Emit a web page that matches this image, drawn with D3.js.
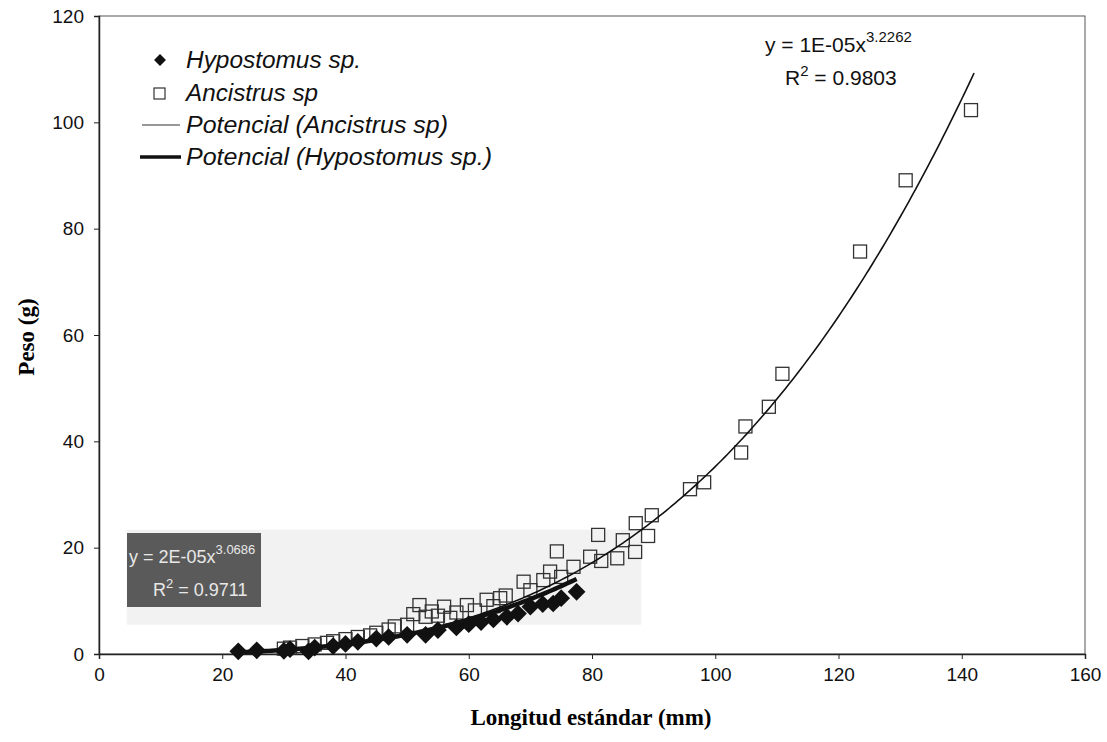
<!DOCTYPE html>
<html>
<head>
<meta charset="utf-8">
<script src="https://cdn.jsdelivr.net/npm/d3@7"></script>
<style>
  body { margin: 0; background: #fff; }
  text { font-family: "Liberation Sans", Arial, sans-serif; }
</style>
</head>
<body>
<div id="chart-area"></div>
<script>
// Ancistrus sp (open squares)
let ancistrusX = [30, 31, 33, 35, 37, 38, 40, 42, 44, 45, 47, 48, 50, 51, 52, 53, 54, 55, 56, 57, 58, 59.7, 61, 62.9, 64, 65.1, 66, 68.9, 70, 72.1, 73.2, 74.3, 75, 77, 79.7, 81, 81.5, 84.1, 85, 87, 87.1, 89.1, 89.7, 95.9, 98.2, 104.2, 104.9, 108.7, 110.9, 123.5, 130.9, 141.5];
let ancistrusY = [1.0, 1.2, 1.5, 1.8, 2.1, 2.4, 2.8, 3.2, 3.5, 4.0, 4.6, 5.2, 5.5, 7.5, 9.2, 7.0, 8.0, 7.2, 8.9, 6.8, 7.8, 9.2, 8.2, 10.2, 9.0, 10.5, 11.0, 13.6, 12.0, 13.9, 15.5, 19.3, 14.5, 16.4, 18.3, 22.4, 17.5, 18.0, 21.4, 19.2, 24.6, 22.2, 26.1, 31.0, 32.3, 37.9, 42.8, 46.5, 52.7, 75.7, 89.1, 102.3];

// Hypostomus sp. (filled diamonds)
let hypostomusX = [22.6, 25.6, 30, 31, 34, 35, 38, 40, 42, 45, 47, 50, 53, 55, 58, 60, 62, 64, 66.2, 68, 70, 72, 73.7, 75, 77.5];
let hypostomusY = [0.5, 0.7, 0.6, 0.9, 0.5, 1.2, 1.5, 1.9, 2.3, 2.9, 3.2, 3.6, 3.6, 4.5, 5.0, 5.6, 6.0, 6.5, 7.0, 7.6, 8.9, 9.4, 9.5, 10.5, 11.7];

// Power trendlines y = a * x^b (coefficients shown rounded on chart)
let ancistrusFit = {a: 1.244e-5, b: 3.2262, from: 30, to: 142};
let hypostomusFit = {a: 2.25e-5, b: 3.0686, from: 22, to: 77.5};

let xTicks = [0, 20, 40, 60, 80, 100, 120, 140, 160];
let yTicks = [0, 20, 40, 60, 80, 100, 120];

let width = 1107, height = 742;
let margin = {top: 16, right: 22, bottom: 88, left: 99};
let w = width - margin.left - margin.right,
	h = height - margin.top - margin.bottom;

let svg = d3.select("#chart-area").append("svg")
	.attr("width", width)
	.attr("height", height);

let g = svg.append("g")
	.attr("transform", "translate(" + margin.left + "," + margin.top + ")");

let x = d3.scaleLinear().domain([0, 160]).range([0, w]);
let y = d3.scaleLinear().domain([0, 120]).range([h, 0]);

// light shaded area behind the lower cluster (label background)
g.append("rect")
	.attr("x", x(4.5)).attr("y", y(23.4))
	.attr("width", x(88) - x(4.5)).attr("height", y(5.5) - y(23.4))
	.attr("fill", "#f2f2f2");

// frame
g.append("rect")
	.attr("width", w).attr("height", h)
	.attr("fill", "none").attr("stroke", "#555").attr("stroke-width", 1);

// axes
let xAxis = d3.axisBottom(x).tickValues(xTicks).tickSize(5).tickPadding(9);
let yAxis = d3.axisLeft(y).tickValues(yTicks).tickSize(5).tickPadding(10);

let gx = g.append("g").attr("transform", "translate(0," + h + ")").call(xAxis);
let gy = g.append("g").call(yAxis);
[gx, gy].forEach(a => {
	a.selectAll("path").attr("stroke", "#222").attr("stroke-width", 1.5);
	a.selectAll("line").attr("stroke", "#222");
	a.selectAll("text").attr("font-size", 19).attr("fill", "#111")
		.style("font-family", "'Liberation Sans', Arial, sans-serif");
});

// axis titles
svg.append("text")
	.attr("x", margin.left + w / 2 - 1).attr("y", 725)
	.attr("text-anchor", "middle")
	.style("font-family", "'Liberation Serif', 'Times New Roman', serif")
	.attr("font-weight", "bold").attr("font-size", 23)
	.text("Longitud estándar (mm)");

svg.append("text")
	.attr("transform", "translate(34," + (margin.top + h / 2 + 2) + ") rotate(-90)")
	.attr("text-anchor", "middle")
	.style("font-family", "'Liberation Serif', 'Times New Roman', serif")
	.attr("font-weight", "bold").attr("font-size", 23)
	.text("Peso (g)");

// trendline helper
function fitLine(f) {
	let pts = d3.range(f.from, f.to + 0.001, 0.5).map(v => [v, f.a * Math.pow(v, f.b)]);
	return d3.line().x(d => x(d[0])).y(d => y(d[1]))(pts);
}

// Ancistrus squares
let ancistrus = ancistrusX.map((v, i) => ({x: v, y: ancistrusY[i]}));
g.selectAll("rect.anc")
	.data(ancistrus)
	.enter()
	.append("rect")
	.attr("class", "anc")
	.attr("x", d => x(d.x) - 6.5)
	.attr("y", d => y(d.y) - 6.5)
	.attr("width", 13).attr("height", 13)
	.attr("fill", "none")
	.attr("stroke", "#333")
	.attr("stroke-width", 1.3);

// Hypostomus diamonds
let hypostomus = hypostomusX.map((v, i) => ({x: v, y: hypostomusY[i]}));
let diamond = d3.symbol().type(d3.symbolDiamond2).size(200);
g.selectAll("path.hyp")
	.data(hypostomus)
	.enter()
	.append("path")
	.attr("class", "hyp")
	.attr("transform", d => "translate(" + x(d.x) + "," + y(d.y) + ")")
	.attr("d", diamond)
	.attr("fill", "#111");

// trendlines
g.append("path")
	.attr("d", fitLine(ancistrusFit))
	.attr("fill", "none").attr("stroke", "#111").attr("stroke-width", 1.6);

g.append("path")
	.attr("d", fitLine(hypostomusFit))
	.attr("fill", "none").attr("stroke", "#111").attr("stroke-width", 4.5);

// Ancistrus equation
let eq1 = svg.append("text").attr("x", 765).attr("y", 52).attr("font-size", 21).attr("fill", "#111");
eq1.append("tspan").text("y = 1E-05x");
eq1.append("tspan").attr("dy", -10).attr("font-size", 15).text("3.2262");
let r1 = svg.append("text").attr("x", 785).attr("y", 85).attr("font-size", 21).attr("fill", "#111");
r1.append("tspan").text("R");
r1.append("tspan").attr("dy", -9).attr("font-size", 15).text("2");
r1.append("tspan").attr("dy", 9).text(" = 0.9803");

// Hypostomus equation box
svg.append("rect")
	.attr("x", 127).attr("y", 533).attr("width", 134).attr("height", 74)
	.attr("fill", "#5a5a5a");
let eq2 = svg.append("text").attr("x", 129).attr("y", 563).attr("font-size", 18).attr("fill", "#e8e8e8");
eq2.append("tspan").text("y = 2E-05x");
eq2.append("tspan").attr("dy", -9).attr("font-size", 13).text("3.0686");
let r2 = svg.append("text").attr("x", 153).attr("y", 596).attr("font-size", 18).attr("fill", "#e8e8e8");
r2.append("tspan").text("R");
r2.append("tspan").attr("dy", -8).attr("font-size", 13).text("2");
r2.append("tspan").attr("dy", 8).text(" = 0.9711");

// legend
let legend = svg.append("g");
let legendItems = ["Hypostomus sp.", "Ancistrus sp", "Potencial (Ancistrus sp)", "Potencial (Hypostomus sp.)"];
let rowY = [60, 93, 125, 157];
legendItems.forEach((t, i) => {
	legend.append("text")
		.attr("x", 186).attr("y", rowY[i] + 8)
		.attr("font-size", 23).attr("font-style", "italic").attr("fill", "#111")
		.attr("textLength", [175, 132, 262, 306][i]).attr("lengthAdjust", "spacingAndGlyphs")
		.text(t);
});
legend.append("path")
	.attr("transform", "translate(160," + rowY[0] + ")")
	.attr("d", d3.symbol().type(d3.symbolDiamond2).size(90))
	.attr("fill", "#111");
legend.append("rect")
	.attr("x", 154).attr("y", rowY[1] - 5).attr("width", 11).attr("height", 11)
	.attr("fill", "none").attr("stroke", "#333").attr("stroke-width", 1.2);
legend.append("line")
	.attr("x1", 142).attr("x2", 180).attr("y1", rowY[2]).attr("y2", rowY[2])
	.attr("stroke", "#333").attr("stroke-width", 1.2);
legend.append("line")
	.attr("x1", 140).attr("x2", 181).attr("y1", rowY[3]).attr("y2", rowY[3])
	.attr("stroke", "#111").attr("stroke-width", 3.5);
</script>
</body>
</html>
